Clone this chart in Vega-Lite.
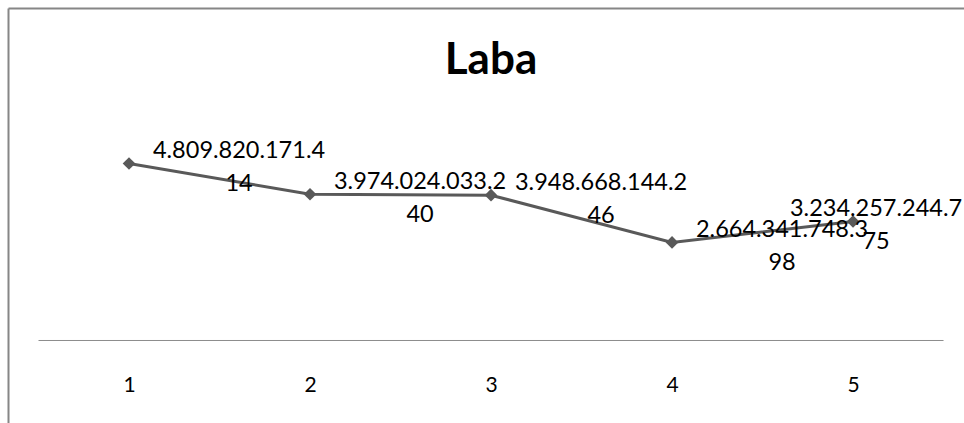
{
  "$schema": "https://vega.github.io/schema/vega-lite/v6.json",
  "width": 956,
  "height": 415,
  "autosize": {"type": "none"},
  "padding": {"left": 8, "top": 8, "right": 0, "bottom": 0},
  "background": "white",
  "config": {"view": {"stroke": null}, "font": "Lato"},
  "title": {"text": "Laba", "font": "Lato", "fontSize": 44, "fontWeight": "bold", "color": "black", "anchor": "middle", "offset": 0, "baseline": "alphabetic", "dy": 110, "dx": 5},
  "data": {"values": [
    {"x": 1, "value": 4809820171.414, "label": "4.809.820.171.4\n14"},
    {"x": 2, "value": 3974024033.240, "label": "3.974.024.033.2\n40"},
    {"x": 3, "value": 3948668144.246, "label": "3.948.668.144.2\n46"},
    {"x": 4, "value": 2664341748.398, "label": "2.664.341.748.3\n98"},
    {"x": 5, "value": 3234257244.775, "label": "3.234.257.244.7\n75"}
  ]},
  "layer": [
    {
      "data": {"values": [{"a": 1}]},
      "mark": {"type": "rule", "color": "#8c8c8c", "strokeWidth": 1},
      "encoding": {
        "x": {"datum": 0.5, "type": "quantitative", "scale": {"domain": [0.3315, 5.613], "zero": false, "nice": false},
              "axis": {"orient": "top", "labels": false, "ticks": false, "grid": false, "title": null, "domain": true, "domainColor": "#868686", "domainWidth": 2}},
        "x2": {"datum": 5.5},
        "y": {"datum": 0, "type": "quantitative", "scale": {"domain": [-2242000000, 9035000000], "zero": false, "nice": false},
              "axis": {"labels": false, "ticks": false, "grid": false, "title": null, "domain": true, "domainColor": "#868686", "domainWidth": 2}}
      }
    },
    {
      "mark": {"type": "line", "color": "#595959", "strokeWidth": 3,
               "point": {"shape": "diamond", "size": 160, "filled": true, "color": "#595959", "opacity": 1}},
      "encoding": {
        "x": {"field": "x", "type": "quantitative",
              "axis": {"orient": "bottom", "values": [1, 2, 3, 4, 5], "format": "d", "domain": false, "ticks": false, "grid": false, "title": null,
                       "labelFontSize": 21, "labelFont": "Lato", "labelColor": "black", "offset": -38, "labelPadding": 0, "labelBaseline": "middle", "labelFlush": false}},
        "y": {"field": "value", "type": "quantitative"}
      }
    },
    {
      "transform": [{"filter": "datum.x < 5"}],
      "mark": {"type": "text", "lineBreak": "\n", "lineHeight": 33, "fontSize": 23.5, "font": "Lato", "align": "center", "baseline": "middle", "dx": 110, "dy": -12.5, "color": "black"},
      "encoding": {
        "x": {"field": "x", "type": "quantitative", "axis": null},
        "y": {"field": "value", "type": "quantitative"},
        "text": {"field": "label", "type": "nominal"}
      }
    },
    {
      "transform": [{"filter": "datum.x == 5"}],
      "mark": {"type": "text", "lineBreak": "\n", "lineHeight": 33, "fontSize": 23.5, "font": "Lato", "align": "center", "baseline": "middle", "dx": 23, "dy": -12.5, "color": "black"},
      "encoding": {
        "x": {"field": "x", "type": "quantitative", "axis": null},
        "y": {"field": "value", "type": "quantitative"},
        "text": {"field": "label", "type": "nominal"}
      }
    }
  ]
}
